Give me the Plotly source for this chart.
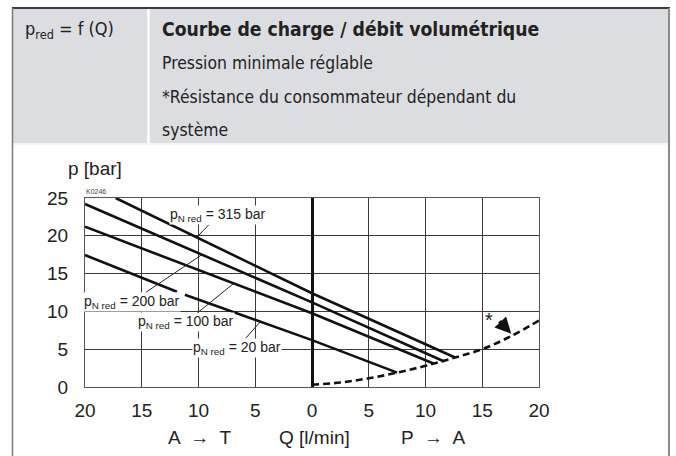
import numpy as np
import plotly.graph_objects as go

W, H = 676, 456

# ---------------- data ----------------
# Q in l/min: negative = A -> T side, positive = P -> A side
q_315 = [-17.3, 0.0, 12.6]
p_315 = [25.0, 12.4, 3.9]
q_200 = [-20.0, 0.0, 11.6]
p_200 = [24.2, 11.2, 3.4]
q_100 = [-20.0, 0.0, 10.7]
p_100 = [21.2, 9.75, 3.1]
q_20 = [-20.0, -11.9, None, -11.2, 0.0, 7.5]
p_20 = [17.45, 12.6, None, 12.2, 6.2, 1.9]

# consumer resistance (dashed)
q_res = [0.0, 2.5, 5.0, 7.5, 10.0, 12.6, 15.0, 17.5, 20.0]
p_res = [0.3, 0.6, 1.15, 1.9, 2.8, 3.9, 5.0, 6.7, 8.8]

x_tickvals = [-20, -15, -10, -5, 0, 5, 10, 15, 20]
x_ticktext = ["20", "15", "10", "5", "0", "5", "10", "15", "20"]
y_tickvals = [0, 5, 10, 15, 20, 25]
y_ticktext = ["0", "5", "10", "15", "20", "25"]

curve_labels = ["315", "200", "100", "20"]
label_anchor_q = [-10.15, -9.7, -6.9, -4.55]

header_left = "p<sub>red</sub> = f (Q)"
header_lines = [
    "<b>Courbe de charge / débit volumétrique</b>",
    "Pression minimale réglable",
    "*Résistance du consommateur dépendant du",
    "système",
]

# ---------------- helpers ----------------
def px(x):
    return x / W


def py(y):
    return 1 - y / H


COND = "Liberation Sans Narrow, DejaVu Sans Condensed, Arial Narrow, sans-serif"
ARIAL = "Liberation Sans, Arial, Helvetica, sans-serif"

fig = go.Figure()

line_style = dict(color="#111111", width=2.6)
for q, p in [(q_315, p_315), (q_200, p_200), (q_100, p_100), (q_20, p_20)]:
    fig.add_trace(go.Scatter(x=q, y=p, mode="lines", line=line_style,
                             hoverinfo="skip", showlegend=False, connectgaps=False))

fig.add_trace(go.Scatter(x=q_res, y=p_res, mode="lines", line_shape="spline",
                         line=dict(color="#111111", width=2.6, dash="7px,4px"),
                         hoverinfo="skip", showlegend=False))

# ---------------- layout ----------------
x0, x1 = 85, 539
y_top, y_bot = 198, 387

fig.update_layout(
    width=W, height=H, autosize=False,
    margin=dict(l=0, r=0, t=0, b=0, pad=0, autoexpand=False),
    paper_bgcolor="white",
    plot_bgcolor="white",
    showlegend=False,
    xaxis=dict(
        domain=[px(x0), px(x1)], range=[-20, 20], automargin=False,
        tickvals=x_tickvals, ticktext=x_ticktext,
        showgrid=True, gridcolor="#3a3a3a", gridwidth=1,
        zeroline=True, zerolinecolor="#111111", zerolinewidth=3,
        showline=True, linecolor="#555555", linewidth=1, mirror=True,
        ticks="outside", ticklen=6, tickcolor="rgba(0,0,0,0)",
        tickfont=dict(family=ARIAL, size=19, color="#222222"),
        fixedrange=True,
    ),
    yaxis=dict(
        domain=[py(y_bot), py(y_top)], range=[0, 25], automargin=False,
        tickvals=y_tickvals, ticktext=y_ticktext,
        showgrid=True, gridcolor="#3a3a3a", gridwidth=1,
        zeroline=False,
        showline=True, linecolor="#555555", linewidth=1, mirror=True,
        ticks="outside", ticklen=12, tickcolor="rgba(0,0,0,0)",
        tickfont=dict(family=ARIAL, size=19, color="#222222"),
        fixedrange=True,
    ),
)

shapes = []
# header gray block
shapes.append(dict(type="rect", xref="paper", yref="paper",
                   x0=px(12), x1=px(669), y0=py(143), y1=py(8),
                   fillcolor="#dcdde0", line=dict(width=0), layer="below"))
# divider between header cells
shapes.append(dict(type="line", xref="paper", yref="paper",
                   x0=px(148.5), x1=px(148.5), y0=py(143), y1=py(8),
                   line=dict(color="white", width=2.5)))
# separator below header
shapes.append(dict(type="line", xref="paper", yref="paper",
                   x0=px(13), x1=px(668), y0=py(144), y1=py(144),
                   line=dict(color="#f2f2f2", width=1.5)))
# frame
shapes.append(dict(type="line", xref="paper", yref="paper",
                   x0=px(12), x1=px(670), y0=py(8), y1=py(8),
                   line=dict(color="#3c3c3c", width=2)))
shapes.append(dict(type="line", xref="paper", yref="paper",
                   x0=px(12.5), x1=px(12.5), y0=py(8), y1=py(456),
                   line=dict(color="#7a7a7a", width=1.5)))
shapes.append(dict(type="line", xref="paper", yref="paper",
                   x0=px(669), x1=px(669), y0=py(8), y1=py(456),
                   line=dict(color="#8a8a8a", width=2)))
fig.update_layout(shapes=shapes)

ann = []
# header texts
ann.append(dict(text=header_left, xref="paper", yref="paper",
                x=px(23), y=py(30), xanchor="left", yanchor="middle",
                showarrow=False, font=dict(family=COND, size=18, color="#222222")))
for i, t in enumerate(header_lines):
    size = 19.2 if i == 0 else 17.4
    ann.append(dict(text=t, xref="paper", yref="paper",
                    x=px(160), y=py(30 + 33.5 * i), xanchor="left", yanchor="middle",
                    showarrow=False, font=dict(family=COND, size=size, color="#222222")))

# axis texts
ann.append(dict(text="p [bar]", xref="paper", yref="paper", x=px(95), y=py(168),
                xanchor="center", yanchor="middle", showarrow=False,
                font=dict(family=ARIAL, size=19, color="#222222")))
ann.append(dict(text="K0246", xref="paper", yref="paper", x=px(84), y=py(191),
                xanchor="left", yanchor="middle", showarrow=False,
                font=dict(family=ARIAL, size=7, color="#444444")))
for txt, cx in [("A  \u2192  T", 199), ("Q [l/min]", 314), ("P  \u2192  A", 433)]:
    ann.append(dict(text=txt, xref="paper", yref="paper", x=px(cx), y=py(437),
                    xanchor="center", yanchor="middle", showarrow=False,
                    font=dict(family=ARIAL, size=19, color="#222222")))

# curve labels with leader lines
curves = [(q_315, p_315), (q_200, p_200), (q_100, p_100), (q_20, p_20)]
offsets = [(21, -22), (-70, 47), (-48, 39), (-23, 26)]
for lab, qa, (qs, ps), (axo, ayo) in zip(curve_labels, label_anchor_q, curves, offsets):
    qq = [v for v in qs if v is not None]
    pp = [v for v in ps if v is not None]
    pa = float(np.interp(qa, qq, pp))
    ann.append(dict(
        text=f"p<sub>N red</sub> = {lab} bar", x=qa, y=pa, xref="x", yref="y",
        showarrow=True, arrowhead=0, arrowwidth=1, arrowcolor="#222222",
        ax=axo, ay=ayo, standoff=0,
        bgcolor="white", borderpad=0,
        font=dict(family=ARIAL, size=14, color="#222222")))

# asterisk + bold arrow near the dashed curve
q_star = 17.55
p_star = float(np.interp(q_star, q_res, p_res)) + 0.3
ann.append(dict(text="", x=q_star, y=p_star, xref="x", yref="y",
                showarrow=True, arrowhead=2, arrowsize=0.8, arrowwidth=4,
                arrowcolor="#111111", ax=-13, ay=-14, standoff=0))
ann.append(dict(text="*", x=q_star, y=p_star, xref="x", yref="y",
                xshift=-22, yshift=14, showarrow=False,
                font=dict(family=ARIAL, size=20, color="#222222")))

fig.update_layout(annotations=ann)

fig.write_html(
    "out.html",
    config={"displayModeBar": False, "staticPlot": True},
    post_script="document.body.style.margin='0';document.body.style.padding='0';"
                "document.documentElement.style.overflow='hidden';",
)
